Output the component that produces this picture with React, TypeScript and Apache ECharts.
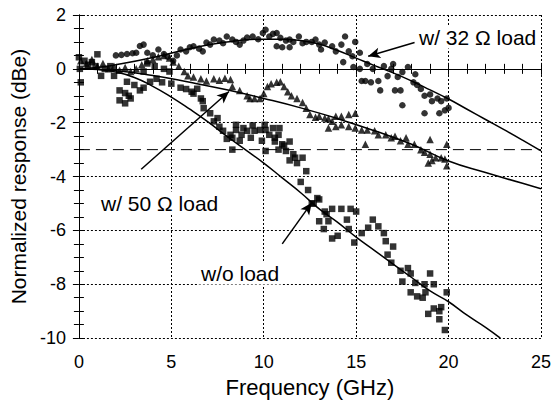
import React, { useEffect, useRef } from "react";
import * as echarts from "echarts";

// ---- Data ----
const xRange = [0, 25];
const yRange = [-10, 2];
const dashedLevel = -3;

// w/ 32 Ω load (circles)
const circles32: number[][] = [
  [2.0, 0.5], [2.3, 0.52], [2.6, 0.55], [2.9, 0.58], [3.1, 0.6], [3.3, 0.85], [3.5, 0.9],
  [3.7, 0.6], [4.0, 0.5], [4.3, 0.72], [4.6, 0.55], [4.8, 0.45], [5.1, 0.3], [5.3, 0.5],
  [5.5, 0.72], [5.8, 0.65], [6.0, 0.8], [6.2, 0.84], [6.5, 0.75], [6.7, 0.65], [6.9, 0.98],
  [7.1, 0.9], [7.3, 1.09], [7.6, 1.05], [7.8, 0.95], [8.0, 1.2], [8.3, 1.09], [8.5, 1.0],
  [8.7, 0.9], [8.9, 1.05], [9.1, 1.16], [9.4, 1.2], [9.7, 1.1], [9.95, 1.33], [10.1, 1.45],
  [10.3, 1.2], [10.5, 1.3], [10.7, 1.33], [10.7, 0.84], [10.9, 1.15], [11.0, 0.8],
  [11.2, 1.05], [11.4, 1.09], [11.4, 0.8], [11.6, 1.0], [11.9, 1.2], [12.1, 0.95],
  [12.3, 1.0], [12.6, 1.0], [12.8, 1.09], [13.0, 0.9], [13.1, 0.72], [13.3, 0.98],
  [13.7, 0.84], [13.9, 0.65], [14.2, 0.9], [14.4, 1.2], [14.6, 0.65], [14.8, 0.47],
  [14.95, 1.0], [15.2, 0.6], [14.3, 0.25], [14.85, 0.07], [15.2, 0.0], [15.3, -0.45],
  [15.5, -0.45], [15.6, 0.18], [15.8, -0.5], [15.9, 0.0], [16.2, -0.45], [16.3, -0.8],
  [16.5, 0.1], [16.7, -0.27], [16.9, 0.0], [17.0, 0.18], [17.1, -0.8], [17.25, -0.3],
  [17.4, -0.8], [17.5, -0.12], [17.5, -1.35], [17.8, 0.07], [18.1, -0.5], [18.2, -0.2],
  [18.3, -0.6], [18.5, -0.75], [18.7, -1.0], [18.7, -1.65], [19.0, -0.95], [19.1, -1.2],
  [19.4, -1.1], [19.5, -1.65], [19.6, -1.2], [19.8, -1.54], [19.9, -1.1], [20.0, -1.45]
];

// w/ 50 Ω load (triangles)
const triangles50: number[][] = [
  [0.1, 0.3], [0.4, 0.2], [0.7, 0.35], [1.0, 0.1], [1.3, 0.2], [1.6, 0.0], [1.9, 0.1],
  [2.2, -0.05], [2.5, 0.05], [2.8, -0.1], [3.1, 0.0], [3.4, 0.15], [3.7, 0.3], [4.0, 0.35],
  [4.3, 0.45], [4.6, 0.5], [4.9, 0.4], [5.1, 0.25], [5.4, 0.1], [5.7, -0.1], [5.9, -0.26],
  [6.2, -0.3], [6.6, -0.37], [6.9, -0.45], [7.3, -0.37], [7.6, -0.42], [7.9, -0.35],
  [8.2, -0.4], [8.3, -0.66], [8.7, -0.8], [9.1, -1.0], [9.25, -1.1], [9.5, -1.1],
  [9.8, -1.1], [10.0, -0.92], [10.2, -0.66], [10.4, -0.55], [10.7, -0.5], [10.9, -0.48],
  [11.1, -0.66], [11.3, -0.85], [11.5, -1.0], [11.8, -1.1], [12.1, -1.25], [12.3, -1.46],
  [12.5, -1.7], [12.8, -1.8], [13.0, -1.76], [13.3, -1.83], [13.5, -1.85], [13.7, -1.95],
  [13.9, -1.76], [14.2, -1.76], [14.6, -1.7], [14.95, -1.65], [13.5, -2.2], [13.9, -2.14],
  [14.2, -2.08], [14.6, -2.14], [14.95, -2.2], [15.3, -2.27], [15.6, -2.27], [16.0, -2.3],
  [16.2, -2.45], [16.6, -2.45], [16.9, -2.56], [17.1, -2.5], [17.4, -2.67], [17.7, -2.56],
  [17.8, -2.8], [18.15, -2.8], [18.5, -3.0], [18.7, -3.1], [18.9, -3.5], [19.0, -3.17],
  [19.1, -3.4], [19.3, -3.3], [19.6, -3.3], [19.8, -3.35], [19.9, -3.6], [19.9, -2.8],
  [15.5, -2.8], [19.0, -2.62]
];

// w/o load (squares)
const squaresNoLoad: number[][] = [
  [0.0, 0.43], [0.05, 0.0], [0.1, -0.5], [0.3, 0.3], [0.5, 0.15], [0.7, 0.25], [0.9, 0.1],
  [1.0, 0.54], [1.2, -0.26], [1.4, 0.0], [1.7, 0.1], [1.9, -0.26], [2.2, -0.8], [2.2, -1.17],
  [2.5, -0.9], [2.5, -1.28], [2.6, -0.48], [2.7, -1.0], [2.8, -1.1], [3.0, -0.6],
  [3.3, -0.8], [3.5, -0.7], [3.5, -0.1], [3.7, 0.2], [3.85, -0.48], [4.1, 0.1],
  [4.2, -0.37], [4.5, -0.5], [4.6, 0.0], [4.9, -0.1], [5.0, -0.55], [5.5, -0.7],
  [5.8, -0.75], [6.1, -0.85], [6.2, -0.92], [6.4, -0.74], [6.6, -1.1], [6.7, -1.2],
  [6.75, -1.46], [7.1, -1.65], [7.3, -1.95], [7.5, -1.83], [7.6, -2.15], [7.8, -2.3],
  [8.0, -2.6], [8.2, -2.45], [8.3, -2.56], [8.3, -3.0], [8.5, -2.27], [8.5, -2.08],
  [8.7, -2.67], [8.8, -2.45], [8.9, -2.2], [9.1, -2.3], [9.3, -2.56], [9.4, -2.1],
  [9.5, -2.3], [9.8, -2.27], [9.9, -2.67], [10.05, -2.08], [10.1, -2.27], [10.1, -3.05],
  [10.3, -2.45], [10.5, -2.2], [10.6, -2.56], [10.6, -2.7], [10.8, -2.45], [10.8, -3.0],
  [10.85, -2.2], [11.0, -2.8], [11.1, -2.85], [11.2, -3.05], [11.4, -2.7], [11.4, -3.4],
  [11.6, -3.17], [11.7, -3.3], [11.8, -3.5], [12.0, -4.2], [12.1, -3.3], [12.3, -3.8],
  [12.4, -4.5], [12.6, -5.0], [12.7, -5.0], [12.9, -4.8], [13.0, -4.85], [13.0, -5.66],
  [13.25, -5.95], [13.3, -5.3], [13.4, -5.4], [13.5, -5.66], [13.7, -5.2], [13.7, -6.3],
  [14.0, -6.2], [14.2, -5.2], [14.5, -5.6], [14.6, -5.95], [14.7, -5.2], [14.9, -6.45],
  [15.0, -5.3], [15.3, -6.1], [15.65, -5.9], [15.9, -5.6], [16.2, -5.85], [16.5, -6.1],
  [16.6, -6.4], [16.7, -6.9], [16.9, -7.2], [17.0, -6.6], [17.4, -7.5], [17.5, -7.9],
  [17.8, -7.4], [17.95, -7.6], [17.95, -8.3], [18.2, -7.95], [18.3, -8.45], [18.6, -8.5],
  [18.7, -8.0], [18.75, -8.3], [18.9, -9.1], [19.0, -7.6], [19.2, -8.0], [19.2, -8.9],
  [19.5, -9.0], [19.5, -9.3], [19.6, -8.85], [19.8, -9.7], [19.9, -8.3]
];

// Fitted curves
const fit32: number[][] = [
  [0, 0], [1, 0.05], [2, 0.15], [4, 0.42], [6, 0.75], [8, 1.0], [10, 1.1], [11, 1.1],
  [12, 1.05], [13, 0.92], [14, 0.68], [15, 0.4], [16, 0.12], [17, -0.15], [18, -0.45],
  [19, -0.78], [20, -1.12], [21, -1.5], [22, -1.88], [23, -2.26], [24, -2.65], [25, -3.05]
];
const fit50: number[][] = [
  [0, 0], [2, -0.07], [4, -0.25], [6, -0.5], [8, -0.78], [10, -1.1], [12, -1.45],
  [14, -1.85], [16, -2.3], [18, -2.8], [20, -3.42], [22, -3.85], [24, -4.25], [25, -4.45]
];
const fitNoLoad: number[][] = [
  [0, 0], [1, -0.02], [2, -0.12], [3, -0.32], [4, -0.65], [5, -1.05], [6, -1.5], [7, -1.98],
  [8, -2.5], [9, -3.0], [10, -3.5], [11, -4.05], [12, -4.6], [13, -5.2], [14, -5.7],
  [15, -6.25], [16, -6.75], [17, -7.25], [18, -7.75], [19, -8.25], [20, -8.65], [21, -9.15],
  [22, -9.6], [22.8, -10]
];

// Annotation arrows [from, to]
const arrow32 = [[18.16, 0.98], [15.65, 0.47]];
const arrow50 = [[3.37, -3.73], [8.12, -0.84]];
const arrowNoLoad = [[11.0, -6.5], [12.6, -4.97]];

const labels = ["w/ 32 \u03A9 load", "w/ 50 \u03A9 load", "w/o load"];
const xTitle = "Frequency (GHz)";
const yTitle = "Normalized response (dBe)";

const FONT = "'Liberation Sans', Arial, Helvetica, sans-serif";

export default function App() {
  const ref = useRef<HTMLDivElement>(null);
  useEffect(() => {
    if (!ref.current) return;
    const chart = echarts.init(ref.current, undefined, { renderer: "svg" });
    const grid = { left: 77, right: 9, top: 15, bottom: 59 };
    const dotted = { type: [2, 2] as any, color: "#000", width: 1 };
    const axisCommon = {
      axisLine: { show: true, lineStyle: { color: "#000", width: 1 } },
      axisTick: { show: true, inside: true, length: 6, lineStyle: { color: "#000" } },
      minorTick: { show: true, length: 5, lineStyle: { color: "#000" } },
    };
    const arrowLine = (a: number[][]) => [
      { coord: a[0], symbol: "none" },
      { coord: a[1], symbol: "arrow" },
    ];
    const option: any = {
      animation: false,
      backgroundColor: "#fff",
      grid,
      xAxis: [
        {
          type: "value", min: xRange[0], max: xRange[1], interval: 5, position: "bottom",
          ...axisCommon,
          minorTick: { ...axisCommon.minorTick, splitNumber: 5 },
          splitLine: { show: true, lineStyle: dotted },
          axisLabel: { color: "#000", fontSize: 18, fontFamily: FONT, margin: 15 },
          name: xTitle, nameLocation: "middle", nameGap: 36,
          nameTextStyle: { color: "#000", fontSize: 22, fontFamily: FONT },
        },
        {
          type: "value", min: xRange[0], max: xRange[1], interval: 5, position: "top",
          ...axisCommon,
          minorTick: { ...axisCommon.minorTick, splitNumber: 5 },
          splitLine: { show: false }, axisLabel: { show: false },
        },
      ],
      yAxis: [
        {
          type: "value", min: yRange[0], max: yRange[1], interval: 2, position: "left",
          ...axisCommon,
          minorTick: { ...axisCommon.minorTick, splitNumber: 4 },
          splitLine: { show: true, lineStyle: dotted },
          axisLabel: { color: "#000", fontSize: 18, fontFamily: FONT, margin: 13 },
          name: yTitle, nameLocation: "middle", nameGap: 42,
          nameTextStyle: { color: "#000", fontSize: 21, fontFamily: FONT },
        },
        {
          type: "value", min: yRange[0], max: yRange[1], interval: 2, position: "right",
          ...axisCommon,
          minorTick: { ...axisCommon.minorTick, splitNumber: 4 },
          splitLine: { show: false }, axisLabel: { show: false },
        },
      ],
      series: [
        {
          type: "line", data: [[xRange[0], dashedLevel], [xRange[1], dashedLevel]],
          showSymbol: false, silent: true,
          lineStyle: { color: "#000", width: 1, type: [11, 6] },
        },
        {
          type: "line", data: fit32, smooth: true, showSymbol: false, silent: true,
          lineStyle: { color: "#000", width: 1.5 },
          markLine: {
            silent: true, symbolSize: [8, 12], label: { show: false },
            lineStyle: { color: "#000", width: 1.5, type: "solid" },
            data: [arrowLine(arrow32)],
          },
        },
        {
          type: "line", data: fit50, smooth: true, showSymbol: false, silent: true,
          lineStyle: { color: "#000", width: 1.5 },
          markLine: {
            silent: true, symbolSize: [8, 12], label: { show: false },
            lineStyle: { color: "#000", width: 1.5, type: "solid" },
            data: [arrowLine(arrow50)],
          },
        },
        {
          type: "line", data: fitNoLoad, smooth: true, showSymbol: false, silent: true,
          lineStyle: { color: "#000", width: 1.5 },
          markLine: {
            silent: true, symbolSize: [8, 12], label: { show: false },
            lineStyle: { color: "#000", width: 1.5, type: "solid" },
            data: [arrowLine(arrowNoLoad)],
          },
        },
        {
          type: "scatter", data: circles32, symbol: "circle", symbolSize: 6.5,
          itemStyle: { color: "#000" },
        },
        {
          type: "scatter", data: triangles50, symbol: "triangle", symbolSize: 7.5,
          itemStyle: { color: "#000" },
        },
        {
          type: "scatter", data: squaresNoLoad, symbol: "rect", symbolSize: 6.5,
          itemStyle: { color: "#000" },
        },
      ],
      graphic: [
        {
          type: "text", x: 417, y: 37, z: 100,
          style: {
            text: labels[0], fill: "#000", fontSize: 21, fontFamily: FONT,
            align: "left", verticalAlign: "middle", backgroundColor: "#fff", padding: [1, 2],
          },
        },
        {
          type: "text", x: 99, y: 203, z: 100,
          style: {
            text: labels[1], fill: "#000", fontSize: 21, fontFamily: FONT,
            align: "left", verticalAlign: "middle", backgroundColor: "#fff", padding: [1, 2],
          },
        },
        {
          type: "text", x: 199, y: 273, z: 100,
          style: {
            text: labels[2], fill: "#000", fontSize: 21, fontFamily: FONT,
            align: "left", verticalAlign: "middle", backgroundColor: "#fff", padding: [1, 2],
          },
        },
      ],
    };
    chart.setOption(option);
    return () => chart.dispose();
  }, []);
  return (
    <div
      ref={ref}
      style={{ position: "fixed", left: 0, top: 0, width: 554, height: 403, background: "#fff" }}
    />
  );
}
